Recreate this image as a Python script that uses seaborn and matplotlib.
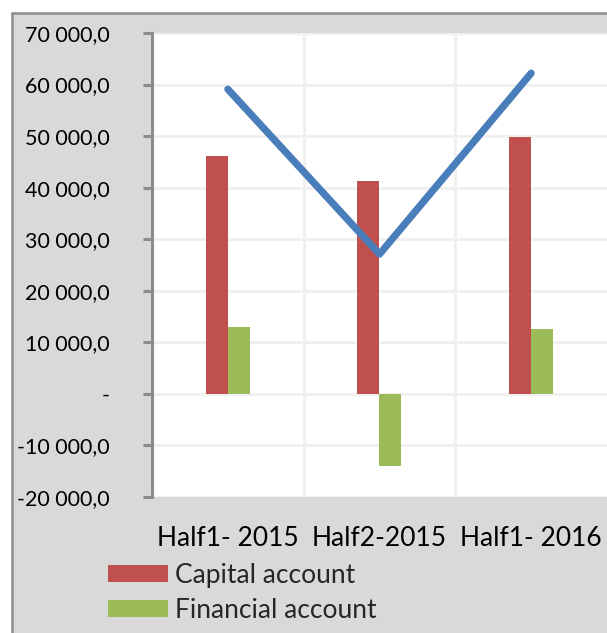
import numpy as np
import pandas as pd
import seaborn as sns
import matplotlib.pyplot as plt
from matplotlib.patches import Rectangle
from matplotlib.ticker import FuncFormatter, FixedLocator

periods = ['Half1- 2015', 'Half2-2015', 'Half1- 2016']
capital = [46100, 41300, 49800]
financial = [13000, -13900, 12600]
balance = [59100, 27100, 62200]

df = pd.DataFrame({
    'period': periods * 2,
    'value': capital + financial,
    'series': ['Capital account'] * 3 + ['Financial account'] * 3,
})

sns.set_theme(style='white')
plt.rcParams['font.family'] = ['Lato', 'DejaVu Sans']

fig = plt.figure(figsize=(6.07, 6.33), dpi=100, facecolor='white')
# gray chart area with border at top/left
fig.patches.append(Rectangle((12 / 607, -0.05), 1, 1.05 - 13 / 633, transform=fig.transFigure,
                             facecolor='#d9d9d9', edgecolor='#8c8c8c', linewidth=1.8, zorder=-10))

ax = fig.add_axes([152 / 607, 1 - 497 / 633, 458 / 607, 464 / 633])
ax.set_facecolor('white')

sns.barplot(data=df, x='period', y='value', hue='series',
            palette=['#c0504d', '#9bbb59'], saturation=1, width=0.29, ax=ax,
            edgecolor='none', zorder=3)
sns.lineplot(x=np.arange(len(periods)), y=balance, color='#4a7ebb', linewidth=5.2,
             solid_capstyle='round', ax=ax, zorder=4, legend=False)

ax.set_ylim(-20000, 70000)
ax.set_xlim(-0.5, 2.52)
ax.set_yticks(np.arange(-20000, 70001, 10000))


def fmt(v, pos):
    if v == 0:
        return '-'
    return f'{v:,.1f}'.replace(',', ' ').replace('.', ',')


ax.yaxis.set_major_formatter(FuncFormatter(fmt))
ax.xaxis.set_minor_locator(FixedLocator([0.5, 1.5]))
ax.grid(axis='y', which='major', color='#f0f0f0', linewidth=2.2, zorder=0)
ax.grid(axis='x', which='minor', color='#f0f0f0', linewidth=2.2, zorder=0)
ax.set_axisbelow(True)

for s in ['top', 'right', 'bottom']:
    ax.spines[s].set_visible(False)
ax.spines['left'].set_color('#8c8c8c')
ax.spines['left'].set_linewidth(2.2)

ax.tick_params(axis='y', direction='out', length=6.5, width=2.2, color='#8c8c8c',
               pad=24, labelsize=15.5, labelcolor='black', left=True)
ax.tick_params(axis='x', which='both', length=0, pad=21, labelsize=19, labelcolor='black')
ax.set_xlabel('')
ax.set_ylabel('')

ax.legend(loc='upper left', bbox_to_anchor=(108 / 607, 1 - 563 / 633),
          bbox_transform=fig.transFigure, frameon=False, fontsize=19,
          handlelength=2.27, handleheight=0.6, handletextpad=0.27,
          labelspacing=0.38, borderpad=0, borderaxespad=0)

fig.savefig('out.png', dpi=100, facecolor=fig.get_facecolor())
